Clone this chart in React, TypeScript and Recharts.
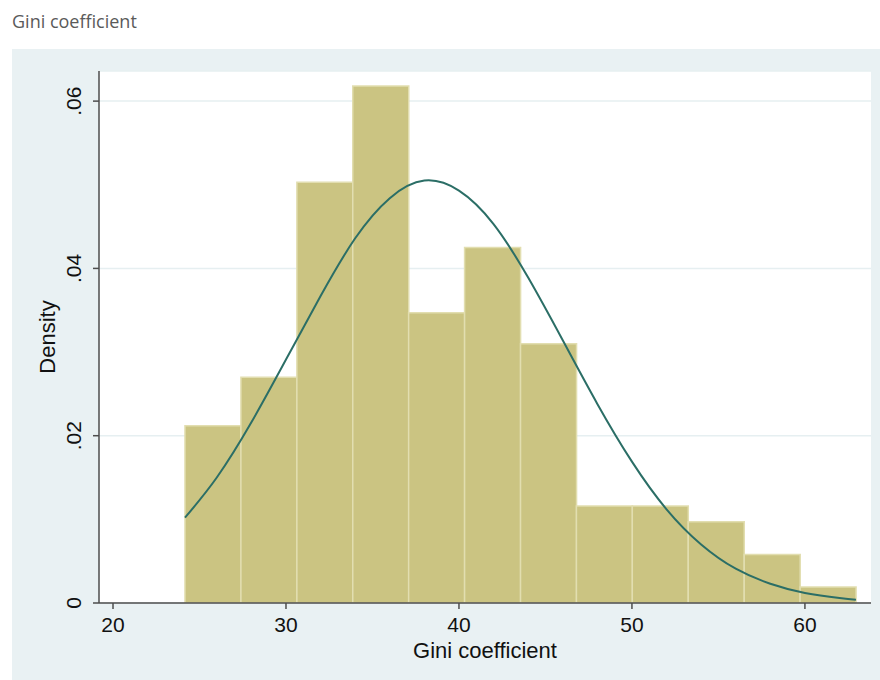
import React from 'react';
import { ComposedChart, Bar, Line, XAxis, YAxis, CartesianGrid } from 'recharts';

// histogram bins (Gini coefficient) and their densities
const binEdges = [24.16, 27.39, 30.63, 33.86, 37.09, 40.32, 43.56, 46.79, 50.02, 53.25, 56.49, 59.72, 62.95];
const binDensity = [0.0212, 0.027, 0.0503, 0.0618, 0.0347, 0.0425, 0.031, 0.0116, 0.0116, 0.0097, 0.0058, 0.0019];

// normal density overlay
const curveX = [24.16, 26, 28, 30, 32, 34, 36, 38, 40, 42, 44, 46, 48, 50, 52, 54, 56, 58, 60, 62, 62.95];
const curveY = [0.0102, 0.015, 0.0216, 0.0291, 0.0367, 0.0436, 0.0484, 0.0505, 0.0493, 0.0453, 0.0389, 0.0314, 0.0238, 0.0169, 0.0112, 0.007, 0.0041, 0.0023, 0.0012, 0.0006, 0.0004];

const xTicks = [20, 30, 40, 50, 60];
const yTicks = [0, 0.02, 0.04, 0.06];

const bins = binDensity.map((d, i) => ({
  mid: (binEdges[i] + binEdges[i + 1]) / 2,
  density: d,
}));
const curve = curveX.map((x, i) => ({ x, y: curveY[i] }));

const xDomain = [19.19, 63.82];
const axisColor = '#4d4d4d';
const font = '"Liberation Sans", Arial, sans-serif';

const fmtY = (v: number) => (v === 0 ? '0' : v.toFixed(2).replace(/^0/, ''));

const YTick = (props: any) => {
  const { x, y, payload } = props;
  return (
    <text
      x={x}
      y={y}
      transform={`rotate(-90, ${x}, ${y})`}
      textAnchor="middle"
      fill="#111"
      fontSize={21}
      fontFamily={font}
    >
      {fmtY(payload.value)}
    </text>
  );
};

export default function App() {
  return (
    <div style={{ position: 'absolute', left: 0, top: 0, width: 880, height: 680, background: '#fff' }}>
      <div
        style={{
          position: 'absolute',
          left: 12,
          top: 12,
          lineHeight: '18px',
          fontSize: 18,
          fontFamily: '"Open Sans", sans-serif',
          color: '#5a5a5a',
        }}
      >
        Gini coefficient
      </div>
      <div style={{ position: 'absolute', left: 12, top: 49, width: 868, height: 631, background: '#e9f1f3' }} />
      <div style={{ position: 'absolute', left: 0, top: 0 }}>
        <ComposedChart
          width={880}
          height={680}
          data={bins}
          margin={{ top: 71, right: 9, bottom: 17, left: 0 }}
          barCategoryGap={0}
          barGap={0}
        >
          <CartesianGrid vertical={false} stroke="#e6eff1" strokeWidth={1.5} fill="#ffffff" />
          <XAxis
            xAxisId="main"
            dataKey="x"
            type="number"
            domain={xDomain}
            ticks={xTicks}
            allowDataOverflow
            height={60}
            tickSize={6}
            tickMargin={8}
            stroke={axisColor}
            strokeWidth={1.5}
            tick={{ fill: '#111', fontSize: 21, fontFamily: font }}
            label={{
              value: 'Gini coefficient',
              position: 'insideBottom',
              offset: 5,
              fill: '#111',
              fontSize: 22,
              fontFamily: font,
            }}
          />
          <XAxis xAxisId="bins" dataKey="mid" type="number" domain={xDomain} allowDataOverflow hide height={0} />
          <YAxis
            type="number"
            domain={[0, 0.0636]}
            ticks={yTicks}
            allowDataOverflow
            width={99}
            tickSize={6}
            tickMargin={12}
            stroke={axisColor}
            strokeWidth={1.5}
            tick={<YTick />}
            label={{
              value: 'Density',
              angle: -90,
              position: 'insideLeft',
              offset: 47,
              fill: '#111',
              fontSize: 22,
              fontFamily: font,
              style: { textAnchor: 'middle' },
            }}
          />
          <Bar
            xAxisId="bins"
            dataKey="density"
            fill="#cbc482"
            stroke="#e2deb0"
            strokeWidth={1.5}
            isAnimationActive={false}
          />
          <Line
            xAxisId="main"
            data={curve}
            dataKey="y"
            type="natural"
            stroke="#2b6e66"
            strokeWidth={2}
            dot={false}
            activeDot={false}
            isAnimationActive={false}
          />
        </ComposedChart>
      </div>
    </div>
  );
}
